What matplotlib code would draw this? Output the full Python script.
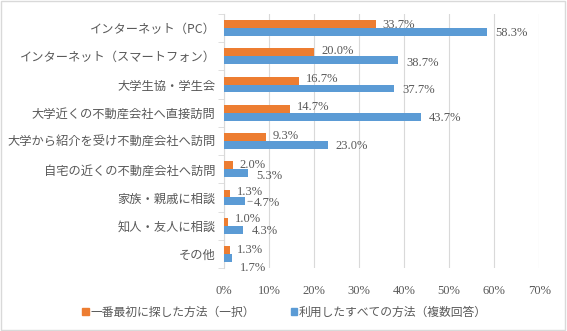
import matplotlib
matplotlib.use("Agg")
import matplotlib.pyplot as plt
from matplotlib.patches import Rectangle
import numpy as np

categories = [
    "インターネット（PC）",
    "インターネット（スマートフォン）",
    "大学生協・学生会",
    "大学近くの不動産会社へ直接訪問",
    "大学から紹介を受け不動産会社へ訪問",
    "自宅の近くの不動産会社へ訪問",
    "家族・親戚に相談",
    "知人・友人に相談",
    "その他",
]
first_method = [33.7, 20.0, 16.7, 14.7, 9.3, 2.0, 1.3, 1.0, 1.3]
all_methods = [58.3, 38.7, 37.7, 43.7, 23.0, 5.3, 4.7, 4.3, 1.7]
series_names = ["一番最初に探した方法（一択）", "利用したすべての方法（複数回答）"]
x_ticks = [0, 10, 20, 30, 40, 50, 60, 70]

ORANGE = "#ED7D31"
BLUE = "#5B9BD5"
TEXT = "#595959"
GRID = "#D9D9D9"

jp_font = ["Noto Sans CJK JP", "DejaVu Sans"]
num_font = ["Liberation Serif", "DejaVu Serif"]

fig = plt.figure(figsize=(5.67, 3.31), dpi=100)
ax = fig.add_axes([0.395, 0.190, 0.556, 0.768])

y = np.arange(len(categories))
h = 0.28
ax.barh(y - h / 2, first_method, height=h, color=ORANGE, zorder=3)
ax.barh(y + h / 2, all_methods, height=h, color=BLUE, zorder=3)

ax.set_xlim(0, 70)
ax.set_ylim(len(categories) - 0.5, -0.5)
ax.set_xticks(x_ticks)
ax.set_xticklabels([f"{t}%" for t in x_ticks], family=num_font, fontsize=9, color=TEXT)
ax.tick_params(axis="x", length=0, pad=12)
ax.set_yticks(y)
ax.set_yticklabels(categories, family=jp_font, fontsize=8.8, color=TEXT)
ax.tick_params(axis="y", which="major", length=0, pad=6)
ax.set_yticks(np.arange(len(categories) + 1) - 0.5, minor=True)
ax.tick_params(axis="y", which="minor", length=4, color=GRID, direction="out")
ax.grid(axis="x", color=GRID, linewidth=0.8, zorder=0)
for s in ["top", "right", "bottom"]:
    ax.spines[s].set_visible(False)
ax.spines["left"].set_color(GRID)

# value labels next to bar ends (vertical nudges in points)
orange_dy = [-1, 1, 1, 1, 1, 0, 1, 2, 0]
blue_dy = [-1, -2, -1, -1, -1, -2, -1, -1, -7]
for i in range(len(categories)):
    ax.annotate(f"{first_method[i]:.1f}%", (first_method[i], y[i] - h / 2),
                xytext=(5, orange_dy[i]), textcoords="offset points",
                ha="left", va="center", family=num_font, fontsize=9,
                color=TEXT, zorder=4)
    ax.annotate(f"{all_methods[i]:.1f}%", (all_methods[i], y[i] + h / 2),
                xytext=(6, blue_dy[i]), textcoords="offset points",
                ha="left", va="center", family=num_font, fontsize=9,
                color=TEXT, zorder=4)

# leader line for the crowded label
i = 6
ax.annotate("", (all_methods[i], y[i] + h / 2), xytext=(all_methods[i] + 2.2, y[i] + h / 2),
            arrowprops=dict(arrowstyle="-", color="#A6A6A6", lw=0.8), zorder=4)

handles = [Rectangle((0, 0), 1, 1, color=ORANGE), Rectangle((0, 0), 1, 1, color=BLUE)]
fig.legend(handles, series_names, loc="center", bbox_to_anchor=(0.502, 1 - 312 / 331),
           ncol=2, frameon=False, prop={"family": jp_font, "size": 8.5},
           handlelength=0.55, handleheight=0.55, handletextpad=0.15,
           columnspacing=3.0, labelcolor=TEXT)

fig.patches.append(Rectangle((0.002, 0.003), 0.995, 0.994, transform=fig.transFigure,
                             fill=False, edgecolor="#D9D9D9", linewidth=1))

fig.savefig("out.png", dpi=100, facecolor="white")
